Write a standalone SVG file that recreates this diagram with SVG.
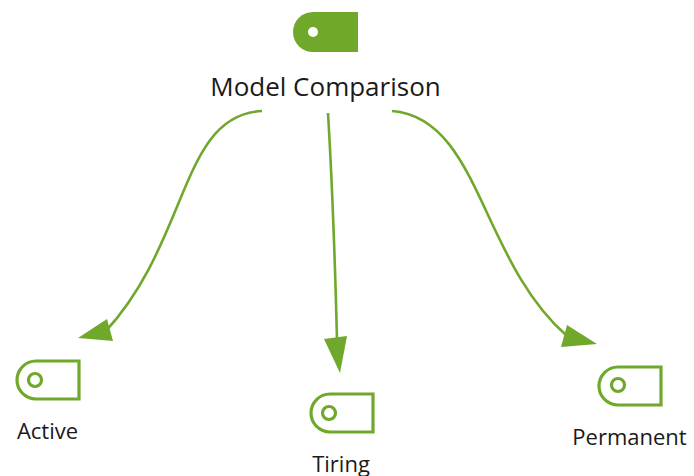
<svg xmlns="http://www.w3.org/2000/svg" width="694" height="476" viewBox="0 0 694 476">
<style>
.t{font-family:"Open Sans","Noto Sans",sans-serif;fill:#1a1a1a}
.tag{fill:#fff;stroke:#70a82c;stroke-width:3.2}
.c{fill:none;stroke:#70a82c;stroke-width:2.6}
.h{fill:#70a82c}
</style>
<rect width="694" height="476" fill="#fff"/>
<g id="connectors">
<path class="c" d="M262 111C180 115 190 240 105 332"/>
<polygon class="h" points="78,338 107,319 113,341"/>
<path class="c" d="M328 113C332 180 335 260 337 340"/>
<polygon class="h" points="340,373 324,339 347,336"/>
<path class="c" d="M392 111C480 118 480 260 567 336"/>
<polygon class="h" points="597,344 567,325 561,347"/>
</g>
<g id="model-comparison">
<path d="M358 12H313A20 20 0 0 0 293 32A20 20 0 0 0 313 52H358Z" fill="#70a82c"/>
<circle cx="313" cy="32" r="5" fill="#fff"/>
<text class="t" x="325.500" y="96" font-size="26" text-anchor="middle">Model Comparison</text>
</g>
<g id="active">
<path class="tag" d="M79 361H36A19 19 0 0 0 17 380A19 19 0 0 0 36 399H79Z"/>
<circle class="tag" cx="35" cy="380" r="6.500"/>
<text class="t" x="47.500" y="439" font-size="22" text-anchor="middle">Active</text>
</g>
<g id="tiring">
<path class="tag" d="M373 394H330A19 19 0 0 0 311 413A19 19 0 0 0 330 432H373Z"/>
<circle class="tag" cx="329" cy="413" r="6.500"/>
<text class="t" x="341" y="472" font-size="22" text-anchor="middle">Tiring</text>
</g>
<g id="permanent">
<path class="tag" d="M661 367H618A19 19 0 0 0 599 386A19 19 0 0 0 618 405H661Z"/>
<circle class="tag" cx="618" cy="385" r="6.500"/>
<text class="t" x="629.500" y="445" font-size="22" text-anchor="middle">Permanent</text>
</g>
</svg>
